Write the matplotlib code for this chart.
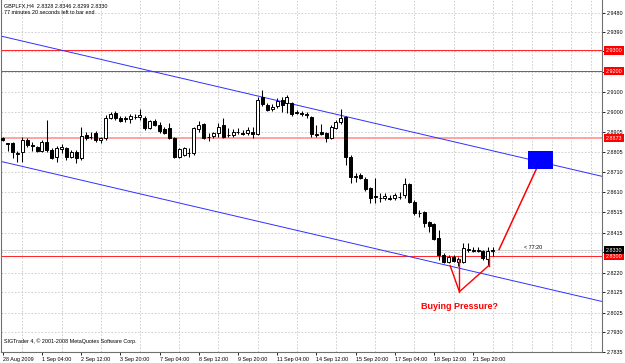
import numpy as np
import matplotlib
matplotlib.use('Agg')
import matplotlib.pyplot as plt
import matplotlib.transforms as mtransforms

# GBPLFX H4 candles (one per 4h bar)
opens = [2.8874, 2.8850, 2.8849, 2.8796, 2.8806, 2.8864, 2.8840, 2.8830, 2.8811, 2.8854,
         2.8816, 2.8782, 2.8820, 2.8825, 2.8782, 2.8806, 2.8777, 2.8888, 2.8879, 2.8898,
         2.8864, 2.8874, 2.8971, 2.8995, 2.8971, 2.8971, 2.8966, 2.8976, 2.8976, 2.8971,
         2.8922, 2.8956, 2.8937, 2.8917, 2.8922, 2.8874, 2.8782, 2.8791, 2.8801, 2.8801,
         2.8917, 2.8942, 2.8879, 2.8883, 2.8898, 2.8937, 2.8888, 2.8888, 2.8903, 2.8898,
         2.8898, 2.8903, 2.8893, 2.9073, 2.9034, 2.9014, 2.9029, 2.9058, 2.9044, 2.9044,
         2.9000, 2.8995, 2.8990, 2.8976, 2.8893, 2.8903, 2.8898, 2.8874, 2.8922, 2.8951,
         2.8976, 2.8782, 2.8689, 2.8694, 2.8675, 2.8631, 2.8592, 2.8583, 2.8583, 2.8583,
         2.8583, 2.8588, 2.8597, 2.8651, 2.8563, 2.8510, 2.8515, 2.8466, 2.8457, 2.8389,
         2.8306, 2.8272, 2.8297, 2.8272, 2.8272, 2.8331, 2.8331, 2.8328, 2.8326, 2.8287,
         2.8328]
highs = [2.8879, 2.8852, 2.8854, 2.8811, 2.8879, 2.8874, 2.8854, 2.8835, 2.8864, 2.8961,
         2.8825, 2.8835, 2.8845, 2.8830, 2.8816, 2.8816, 2.8927, 2.8903, 2.8903, 2.8908,
         2.8879, 2.8985, 2.9000, 2.9005, 2.8980, 2.8980, 2.8990, 2.8990, 2.9014, 2.8980,
         2.8961, 2.8966, 2.8951, 2.8927, 2.8946, 2.8879, 2.8825, 2.8830, 2.8825, 2.8927,
         2.8956, 2.8946, 2.8898, 2.8903, 2.8946, 2.8971, 2.8922, 2.8917, 2.8922, 2.8913,
         2.8927, 2.8927, 2.9073, 2.9107, 2.9044, 2.9039, 2.9068, 2.9073, 2.9083, 2.9048,
         2.9010, 2.9005, 2.9000, 2.8980, 2.8937, 2.8942, 2.8903, 2.8937, 2.8961, 2.9014,
         2.8980, 2.8791, 2.8704, 2.8704, 2.8685, 2.8636, 2.8680, 2.8607, 2.8607, 2.8597,
         2.8607, 2.8612, 2.8680, 2.8655, 2.8573, 2.8524, 2.8520, 2.8471, 2.8461, 2.8428,
         2.8316, 2.8306, 2.8306, 2.8297, 2.8365, 2.8365, 2.8345, 2.8345, 2.8331, 2.8345,
         2.8346]
lows = [2.8859, 2.8811, 2.8777, 2.8757, 2.8757, 2.8830, 2.8811, 2.8806, 2.8806, 2.8806,
        2.8772, 2.8757, 2.8801, 2.8767, 2.8777, 2.8752, 2.8767, 2.8864, 2.8869, 2.8854,
        2.8850, 2.8864, 2.8966, 2.8961, 2.8951, 2.8951, 2.8946, 2.8966, 2.8961, 2.8913,
        2.8917, 2.8932, 2.8898, 2.8893, 2.8869, 2.8777, 2.8777, 2.8786, 2.8782, 2.8791,
        2.8903, 2.8869, 2.8859, 2.8874, 2.8879, 2.8874, 2.8879, 2.8879, 2.8893, 2.8888,
        2.8888, 2.8874, 2.8888, 2.9029, 2.9005, 2.9005, 2.9019, 2.9000, 2.8995, 2.8980,
        2.8990, 2.8980, 2.8971, 2.8879, 2.8879, 2.8888, 2.8854, 2.8869, 2.8917, 2.8942,
        2.8742, 2.8655, 2.8660, 2.8675, 2.8617, 2.8558, 2.8558, 2.8563, 2.8573, 2.8573,
        2.8573, 2.8578, 2.8583, 2.8558, 2.8500, 2.8490, 2.8442, 2.8418, 2.8380, 2.8282,
        2.8268, 2.8268, 2.8272, 2.8253, 2.8268, 2.8321, 2.8321, 2.8321, 2.8282, 2.8258,
        2.8299]
closes = [2.8864, 2.8846, 2.8806, 2.8804, 2.8864, 2.8840, 2.8838, 2.8811, 2.8854, 2.8816,
          2.8777, 2.8825, 2.8830, 2.8782, 2.8806, 2.8777, 2.8883, 2.8874, 2.8881, 2.8864,
          2.8874, 2.8971, 2.8990, 2.8971, 2.8956, 2.8968, 2.8980, 2.8978, 2.8985, 2.8922,
          2.8956, 2.8937, 2.8908, 2.8898, 2.8874, 2.8782, 2.8820, 2.8825, 2.8803, 2.8922,
          2.8937, 2.8874, 2.8881, 2.8898, 2.8927, 2.8879, 2.8891, 2.8903, 2.8905, 2.8896,
          2.8913, 2.8896, 2.9058, 2.9039, 2.9010, 2.9024, 2.9053, 2.9034, 2.9073, 2.8990,
          2.8998, 2.8993, 2.8988, 2.8893, 2.8891, 2.8893, 2.8874, 2.8927, 2.8951, 2.8971,
          2.8782, 2.8685, 2.8687, 2.8680, 2.8626, 2.8583, 2.8588, 2.8585, 2.8592, 2.8580,
          2.8597, 2.8590, 2.8651, 2.8563, 2.8510, 2.8512, 2.8461, 2.8447, 2.8384, 2.8306,
          2.8272, 2.8297, 2.8277, 2.8287, 2.8340, 2.8333, 2.8328, 2.8331, 2.8292, 2.8326,
          2.8330]

time_pos = [0, 8, 16, 24, 32, 40, 48, 56, 64, 72, 80, 88, 96]
time_labels = ['28 Aug 2009', '1 Sep 04:00', '2 Sep 12:00', '3 Sep 20:00', '7 Sep 04:00',
               '8 Sep 12:00', '9 Sep 20:00', '11 Sep 04:00', '14 Sep 12:00', '15 Sep 20:00',
               '17 Sep 04:00', '18 Sep 12:00', '21 Sep 20:00']

price_ticks = [2.9480, 2.9390, 2.9295, 2.9195, 2.9100, 2.9000, 2.8905, 2.8805, 2.8710,
               2.8610, 2.8515, 2.8415, 2.8320, 2.8220, 2.8125, 2.8025, 2.7930, 2.7835]
hidden_ticks = [2.9295, 2.9195, 2.8320]

red_levels = [2.9300, 2.9200, 2.8873, 2.8300]
bid = 2.8330

# channel lines and the hand drawn notes (bar index, price)
upper_x = [-0.4, 122.2]
upper_y = [2.9370, 2.8689]
lower_x = [-0.4, 122.2]
lower_y = [2.8761, 2.8081]
vee_x = [91.3, 93.2, 99.2]
vee_y = [2.8255, 2.8128, 2.8255]
arrow_x = [101.3, 109.1]
arrow_y = [2.8333, 2.8734]
box_x = [107.1, 112.2]
box_y = [2.8723, 2.8810]

fnt = 'Liberation Sans'
fs = 3.9

fig = plt.figure(figsize=(6.25, 3.63), dpi=100)
ax = fig.add_axes([1.5 / 625, 11 / 363, 600.5 / 625, 352 / 363])
ax.set_xlim(-0.25, 122.3)
ax.set_ylim(2.7835, 2.9545)

# grid
ax.set_xticks(time_pos)
ax.set_xticklabels(time_labels, fontsize=fs, family=fnt)
for lab in ax.get_xticklabels():
    lab.set_ha('left')
ax.set_xticks(np.arange(4, 124, 4), minor=True)
ax.grid(which='minor', axis='x', color='#c8c8c8', lw=0.6, ls=(0, (2, 2)))
ax.set_yticks(price_ticks)
ax.set_yticklabels(['' if p in hidden_ticks else f'{p:.4f}' for p in price_ticks],
                   fontsize=fs, family=fnt)
ax.grid(which='major', axis='y', color='#c8c8c8', lw=0.6, ls=(0, (2, 2)))
ax.yaxis.tick_right()
ax.tick_params(axis='y', length=2.5, width=0.6, pad=1.2, colors='black')
ax.tick_params(axis='x', which='major', length=2.5, width=0.6, pad=1)
ax.tick_params(axis='x', which='minor', length=0)
ax.set_axisbelow(True)
for s in ['left', 'bottom', 'right']:
    ax.spines[s].set_color('#707070')
    ax.spines[s].set_linewidth(0.8)
ax.spines['top'].set_visible(False)

# horizontal levels
for lv in red_levels:
    if lv == 2.8873:
        ax.axhline(lv, color='#ff9a9a', lw=1.3, zorder=2)
    else:
        ax.axhline(lv, color='red', lw=0.6, zorder=2)
ax.axhline(bid, color='#c8c8c8', lw=0.6, zorder=2)

# channel
ax.plot(upper_x, upper_y, color='#3030ff', lw=0.7, zorder=2)
ax.plot(lower_x, lower_y, color='#3030ff', lw=0.7, zorder=2)

# candles
idx = np.arange(len(opens))
o = np.array(opens)
c = np.array(closes)
up = c >= o
ax.vlines(idx, lows, highs, color='black', lw=0.75, zorder=3)
bot = np.minimum(o, c)
hgt = np.maximum(np.abs(c - o), 0.00002)
ax.bar(idx[up], hgt[up], bottom=bot[up], width=0.62, facecolor='white',
       edgecolor='black', lw=0.7, zorder=4)
ax.bar(idx[~up], hgt[~up], bottom=bot[~up], width=0.62, facecolor='black',
       edgecolor='black', lw=0.7, zorder=4)

# notes
ax.plot(vee_x, vee_y, color='red', lw=1.0, zorder=5)
ax.plot([vee_x[1], vee_x[1]], [vee_y[1], 2.8285], color='red', lw=1.0, zorder=5)
ax.plot([vee_x[2], vee_x[2]], [vee_y[2], 2.8298], color='red', lw=1.0, zorder=5)
ax.plot(arrow_x, arrow_y, color='red', lw=1.1, zorder=5)
ax.fill_between(box_x, box_y[0], box_y[1], color='blue', lw=0, zorder=5)
ax.text(93.2, 2.8055, 'Buying Pressure?', color='red', fontsize=6.5, weight='bold',
        family=fnt, ha='center', va='center', zorder=6)
ax.text(106.3, bid + 0.0002, '< 77:20', fontsize=fs, family=fnt, ha='left', va='bottom')

# price boxes on the right axis
tr = mtransforms.blended_transform_factory(ax.transAxes, ax.transData)
for lv in red_levels:
    ax.text(1.006, lv, f'{lv:.4f}', transform=tr, fontsize=fs, family=fnt, color='white',
            va='center', ha='left', clip_on=False,
            bbox=dict(boxstyle='square,pad=0.3', fc='red', ec='none'))
ax.text(1.006, bid, f'{bid:.4f}', transform=tr, fontsize=fs, family=fnt, color='white',
        va='center', ha='left', clip_on=False,
        bbox=dict(boxstyle='square,pad=0.3', fc='black', ec='none'))

# header and footer text
ax.text(0.004, 0.99, 'GBPLFX,H4  2.8328 2.8346 2.8299 2.8330', transform=ax.transAxes,
        fontsize=fs, family=fnt, va='top', ha='left')
ax.text(0.004, 0.972, '77 minutes 20 seconds left to bar end', transform=ax.transAxes,
        fontsize=fs, family=fnt, va='top', ha='left')
ax.text(0.004, 0.022, 'SIGTrader 4, \u00a9 2001-2008 MetaQuotes Software Corp.',
        transform=ax.transAxes, fontsize=fs, family=fnt, va='bottom', ha='left')

fig.savefig('out.png', dpi=100)
